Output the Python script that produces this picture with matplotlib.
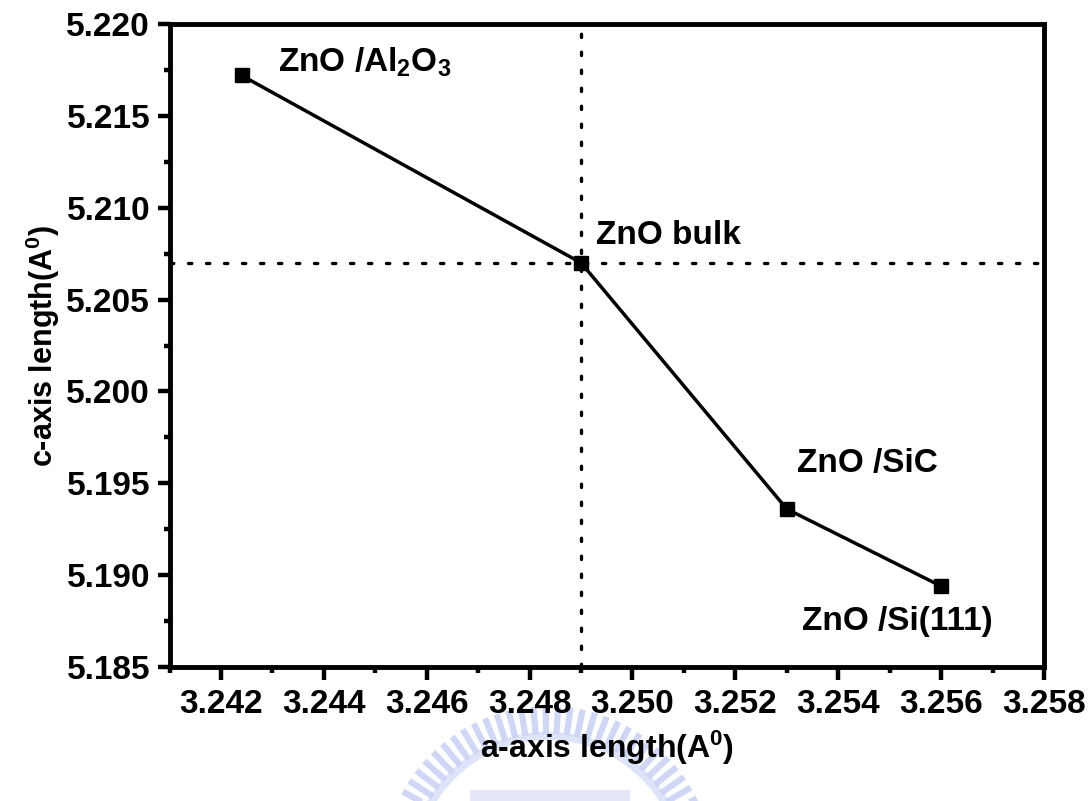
import numpy as np
import matplotlib
matplotlib.use('Agg')
from matplotlib import pyplot as plt
from matplotlib.ticker import MultipleLocator, FormatStrFormatter

# lattice constants of ZnO films on different substrates (angstrom)
samples = ['ZnO /Al$_2$O$_3$', 'ZnO bulk', 'ZnO /SiC', 'ZnO /Si(111)']
a_axis = [3.2424, 3.2490, 3.2530, 3.2560]
c_axis = [5.2172, 5.2070, 5.1936, 5.1894]

# where each sample name is written
label_x = [3.2431, 3.2493, 3.2532, 3.2533]
label_y = [5.2174, 5.2080, 5.1956, 5.1870]

# bulk reference values for the dotted guide lines
bulk_a = 3.249
bulk_c = 5.207

plt.rcParams['font.family'] = ['Liberation Sans', 'DejaVu Sans']
plt.rcParams['font.weight'] = 'bold'
plt.rcParams['mathtext.fontset'] = 'custom'
plt.rcParams['mathtext.rm'] = 'Liberation Sans:bold'
plt.rcParams['mathtext.it'] = 'Liberation Sans:bold'
plt.rcParams['mathtext.bf'] = 'Liberation Sans:bold'
plt.rcParams['mathtext.default'] = 'rm'

fig = plt.figure(figsize=(10.92, 8.01), dpi=100)

# faint logo behind the x label
bg = fig.add_axes([0, 0, 1, 1], zorder=-5)
bg.set_xlim(0, 1092)
bg.set_ylim(801, 0)
bg.axis('off')
for ang in np.arange(22, 160, 4.3):
    t = np.radians(ang)
    r0, r1 = 138, 166
    bg.plot([548 + r0 * np.cos(t), 548 + r1 * np.cos(t)],
            [872 - r0 * np.sin(t), 872 - r1 * np.sin(t)],
            color='#bcc7f2', lw=4.5, solid_capstyle='butt', alpha=0.7)
arc = np.radians(np.linspace(24, 156, 80))
bg.plot(548 + 136 * np.cos(arc), 872 - 136 * np.sin(arc), color='#ccd4f5', lw=6, alpha=0.65)
bg.fill_between([470, 630], 790, 801, color='#ccd4f5', alpha=0.55, lw=0)

ax = fig.add_axes([0.1553, 0.1673, 0.8007, 0.8027])

# dotted guides through the bulk point
ax.axvline(bulk_a, color='black', lw=2.4, linestyle=(0, (1, 4.4)), dash_capstyle='round')
ax.axhline(bulk_c, color='black', lw=2.4, linestyle=(0, (1, 4.4)), dash_capstyle='round')

ax.plot(a_axis, c_axis, color='black', lw=2.5, marker='s', markersize=10, zorder=3)

for name, x, y in zip(samples, label_x, label_y):
    ax.text(x, y, name, fontsize=24, fontweight='bold', ha='left', va='baseline')

ax.set_xlim(3.241, 3.258)
ax.set_ylim(5.185, 5.220)
ax.xaxis.set_major_locator(MultipleLocator(0.002))
ax.xaxis.set_minor_locator(MultipleLocator(0.001))
ax.yaxis.set_major_locator(MultipleLocator(0.005))
ax.yaxis.set_minor_locator(MultipleLocator(0.0025))
ax.xaxis.set_major_formatter(FormatStrFormatter('%.3f'))
ax.yaxis.set_major_formatter(FormatStrFormatter('%.3f'))

for side in ['left', 'right', 'top', 'bottom']:
    ax.spines[side].set_linewidth(3.5)

ax.tick_params(which='major', direction='out', length=9, width=3.2, labelsize=24)
ax.tick_params(which='minor', direction='out', length=4.5, width=3.2)
ax.tick_params(axis='x', which='major', pad=7)
ax.tick_params(axis='y', which='major', pad=5)

ax.set_xlabel('a-axis length(A$^0$)', fontsize=23, fontweight='bold', labelpad=6)
ax.set_ylabel('c-axis length(A$^0$)', fontsize=22, fontweight='bold', labelpad=3)

fig.savefig('out.png', dpi=100)
